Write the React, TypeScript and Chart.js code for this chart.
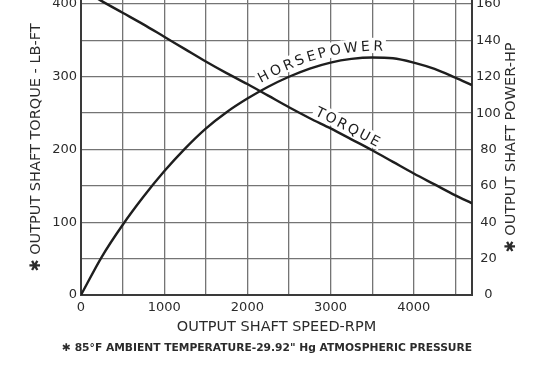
import { useEffect, useRef } from "react";
import { Chart, registerables } from "chart.js";

Chart.register(...registerables);

// ---- data ----
const speedRpm = [0, 250, 500, 750, 1000, 1250, 1500, 1750, 2000, 2250, 2500, 2750, 3000, 3250, 3500, 3750, 4000, 4250, 4500, 4700];
const torqueLbFt = [421, 404, 388, 372, 355, 338, 321, 305, 290, 274, 258, 243, 229, 214, 199, 183, 167, 152, 137, 126];
const powerHp = [0, 21, 38.5, 54, 68, 80.5, 91.5, 100.5, 108, 114.5, 120, 124.5, 127.8, 129.8, 130.6, 130.2, 127.8, 124.3, 119.5, 115.4];

const xGridTicks = [0, 500, 1000, 1500, 2000, 2500, 3000, 3500, 4000, 4500];
const xLabelTicks = [0, 1000, 2000, 3000, 4000];
const torqueGridTicks = [0, 50, 100, 150, 200, 250, 300, 350, 400];
const torqueLabelTicks = [0, 100, 200, 300, 400];
const powerTicks = [0, 20, 40, 60, 80, 100, 120, 140, 160];

const xTitle = "OUTPUT SHAFT SPEED-RPM";
const leftTitle = "\u2731 OUTPUT SHAFT TORQUE - LB-FT";
const rightTitle = "\u2731 OUTPUT SHAFT POWER-HP";
const footnote = "\u2731 85\u00B0F AMBIENT TEMPERATURE-29.92\" Hg ATMOSPHERIC PRESSURE";
const hpLabel = "HORSEPOWER";
const torqueLabel = "TORQUE";

const FONT = "'DejaVu Sans', sans-serif";
const INK = "#1e1e1e";
const TEXT = "#2b2b2b";

type Pt = { x: number; y: number };

function yAtFactory(pts: Pt[]) {
  return (x: number) => {
    if (x <= pts[0].x) return pts[0].y;
    for (let i = 1; i < pts.length; i++) {
      if (x <= pts[i].x) {
        const a = pts[i - 1], b = pts[i];
        const t = (x - a.x) / (b.x - a.x);
        return a.y + t * (b.y - a.y);
      }
    }
    return pts[pts.length - 1].y;
  };
}

function drawCurveText(ctx: CanvasRenderingContext2D, pts: Pt[], text: string, startX: number, offset: number, spacing: number, fontPx: number) {
  const yAt = yAtFactory(pts);
  ctx.save();
  ctx.font = `${fontPx}px ${FONT}`;
  const capH = fontPx * 0.73;
  const advance = (x0: number, d: number) => {
    let x = x0;
    const y0 = yAt(x0);
    while (Math.hypot(x - x0, yAt(x) - y0) < d) x += 0.1;
    return x;
  };
  const places: { cx: number; cy: number; ang: number; w: number; ch: string }[] = [];
  let s = startX;
  for (const ch of text) {
    const w = ctx.measureText(ch).width;
    const e = advance(s, w);
    const ys = yAt(s), ye = yAt(e);
    places.push({ cx: (s + e) / 2, cy: (ys + ye) / 2, ang: Math.atan2(ye - ys, e - s), w, ch });
    s = advance(e, spacing);
  }
  for (const p of places) {
    ctx.save();
    ctx.translate(p.cx, p.cy);
    ctx.rotate(p.ang);
    ctx.fillStyle = "#ffffff";
    ctx.fillRect(-p.w / 2 - 2.5, -offset - capH - 2.5, p.w + 5, capH + 5);
    ctx.restore();
  }
  for (const p of places) {
    ctx.save();
    ctx.translate(p.cx, p.cy);
    ctx.rotate(p.ang);
    ctx.fillStyle = INK;
    ctx.textAlign = "center";
    ctx.textBaseline = "alphabetic";
    ctx.fillText(p.ch, 0, -offset);
    ctx.restore();
  }
  ctx.restore();
}

const decorPlugin = {
  id: "decor",
  beforeDatasetsDraw(chart: any) {
    const ctx = chart.ctx as CanvasRenderingContext2D;
    const xs = chart.scales.x;
    const hpPts = chart.getDatasetMeta(1).data.map((p: any) => ({ x: p.x, y: p.y }));
    const tqPts = chart.getDatasetMeta(0).data.map((p: any) => ({ x: p.x, y: p.y }));
    drawCurveText(ctx, hpPts, hpLabel, xs.getPixelForValue(2200), 7, 2.5, 14);
    drawCurveText(ctx, tqPts, torqueLabel, xs.getPixelForValue(2780), 5, 2, 14);
  },
  afterDraw(chart: any) {
    const ctx = chart.ctx as CanvasRenderingContext2D;
    const area = chart.chartArea;
    ctx.save();
    // right axis title reading bottom-to-top
    ctx.font = `14.5px ${FONT}`;
    ctx.fillStyle = TEXT;
    ctx.textAlign = "center";
    ctx.textBaseline = "middle";
    ctx.translate(511.5, (area.top + area.bottom) / 2);
    ctx.rotate(-Math.PI / 2);
    ctx.fillText(rightTitle, 0, 0);
    ctx.restore();

    ctx.save();
    ctx.font = `bold 10.7px ${FONT}`;
    ctx.fillStyle = TEXT;
    ctx.textAlign = "left";
    ctx.textBaseline = "middle";
    ctx.fillText(footnote, 62, 348);
    ctx.restore();
  },
};

const noPad = (s: any) => {
  s.paddingTop = 0;
  s.paddingBottom = 0;
  s.paddingLeft = 0;
  s.paddingRight = 0;
};

export default function App() {
  const ref = useRef<HTMLCanvasElement | null>(null);

  useEffect(() => {
    document.body.style.margin = "0";
    const canvas = ref.current!;
    const gridStyle = { color: "#747474", lineWidth: 1.3, drawTicks: false };
    const borderStyle = { display: true, color: "#3a3a3a", width: 2 };
    const chart = new Chart(canvas, {
      type: "line",
      data: {
        datasets: [
          {
            label: "Torque",
            data: speedRpm.map((r, i) => ({ x: r, y: torqueLbFt[i] })),
            yAxisID: "y",
            borderColor: INK,
            borderWidth: 2.4,
            pointRadius: 0,
            cubicInterpolationMode: "monotone",
            fill: false,
          },
          {
            label: "Horsepower",
            data: speedRpm.map((r, i) => ({ x: r, y: powerHp[i] })),
            yAxisID: "y1",
            borderColor: INK,
            borderWidth: 2.4,
            pointRadius: 0,
            cubicInterpolationMode: "monotone",
            fill: false,
          },
        ],
      },
      options: {
        animation: false,
        responsive: false,
        devicePixelRatio: 1,
        layout: { padding: 0 },
        plugins: { legend: { display: false }, tooltip: { enabled: false } },
        scales: {
          x: {
            type: "linear",
            min: 0,
            max: 4700,
            afterBuildTicks: (s: any) => { s.ticks = xGridTicks.map((v) => ({ value: v })); },
            afterFit: (s: any) => { s.height = 71; noPad(s); },
            grid: gridStyle,
            border: borderStyle,
            ticks: {
              autoSkip: false,
              maxRotation: 0,
              padding: 5,
              color: TEXT,
              font: { family: FONT, size: 13 },
              callback: (v: any) => (xLabelTicks.includes(Number(v)) ? String(v) : ""),
            },
            title: {
              display: true,
              text: xTitle,
              color: TEXT,
              font: { family: FONT, size: 14.5 },
              padding: { top: 0, bottom: 29.8 },
            },
          },
          y: {
            type: "linear",
            position: "left",
            min: 0,
            max: 405.5,
            afterBuildTicks: (s: any) => { s.ticks = torqueGridTicks.map((v) => ({ value: v })); },
            afterFit: (s: any) => { s.width = 81; noPad(s); },
            grid: gridStyle,
            border: borderStyle,
            ticks: {
              autoSkip: false,
              padding: 4,
              color: TEXT,
              font: { family: FONT, size: 13 },
              callback: (v: any) => (torqueLabelTicks.includes(Number(v)) ? String(v) : ""),
            },
            title: {
              display: true,
              text: leftTitle,
              color: TEXT,
              font: { family: FONT, size: 14.5 },
              padding: { top: 27.8, bottom: 0 },
            },
          },
          y1: {
            type: "linear",
            position: "right",
            min: 0,
            max: 405.5 / 2.5,
            afterBuildTicks: (s: any) => { s.ticks = powerTicks.map((v) => ({ value: v })); },
            afterFit: (s: any) => { s.width = 68; noPad(s); },
            grid: { display: false, drawTicks: false },
            border: borderStyle,
            ticks: {
              autoSkip: false,
              padding: 4,
              crossAlign: "center",
              color: TEXT,
              font: { family: FONT, size: 13 },
            },
          },
        },
      },
      plugins: [decorPlugin],
    } as any);
    return () => chart.destroy();
  }, []);

  return (
    <div style={{ position: "absolute", left: 0, top: 0, width: 540, height: 366, background: "#fff" }}>
      <canvas ref={ref} width={540} height={366} />
    </div>
  );
}
